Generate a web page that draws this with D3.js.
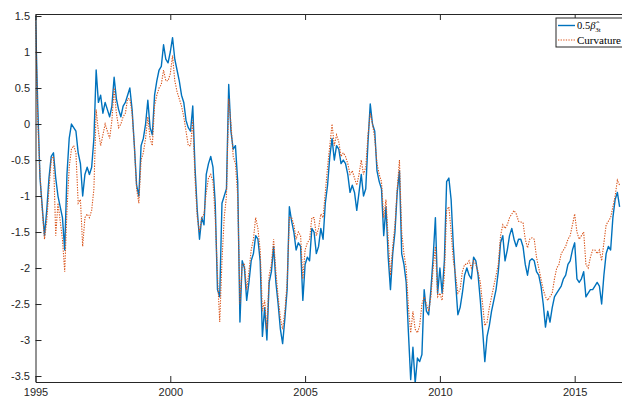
<!DOCTYPE html>
<html>
<head>
<meta charset="utf-8">
<script src="https://cdn.jsdelivr.net/npm/d3@7"></script>
<style>
  body { margin: 0; background: #fff; }
  svg { display: block; }
</style>
</head>
<body>
<svg id="chart" width="622" height="397"></svg>
<script>
// monthly values, Jan 1995 .. Sep 2016
const startYear = 1995;
const beta3Half = [
  1.5, 0.25, -0.75, -1.15, -1.55, -1.2, -0.75, -0.45, -0.4, -0.75, -1.0, -1.15,
  -1.3, -1.75, -0.7, -0.2, 0.0, -0.05, -0.1, -0.4, -0.55, -1.0, -0.7, -0.6,
  -0.7, -0.6, -0.2, 0.75, 0.3, 0.4, 0.15, 0.3, 0.2, 0.1, 0.25, 0.65,
  0.35, 0.2, 0.1, 0.25, 0.3, 0.4, 0.5, 0.2, -0.3, -0.85, -1.0, -0.3,
  -0.2, 0.0, 0.33, -0.05, -0.15, 0.4, 0.6, 0.75, 0.8, 1.1, 0.9, 0.85,
  1.0, 1.2, 0.9, 0.75, 0.6, 0.4, 0.3, 0.05, -0.05, -0.1, 0.25, -0.6,
  -1.2, -1.6, -1.3, -1.4, -0.7, -0.55, -0.45, -0.6, -1.1, -2.3, -2.4, -1.1,
  -1.0, -0.9, 0.55, -0.1, -0.35, -0.3, -0.8, -2.75, -1.9, -2.0, -2.45, -2.2,
  -1.9, -1.8, -1.55, -1.6, -1.9, -2.95, -2.55, -3.0, -2.2, -2.05, -1.7, -2.2,
  -2.5, -2.85, -3.05, -2.7, -2.3, -1.15, -1.35, -1.5, -1.75, -1.65, -1.7, -2.45,
  -1.95, -1.85, -1.9, -1.45, -1.5, -1.8, -1.7, -1.45, -1.6, -1.1, -0.85, -0.45,
  -0.2, -0.5, -0.3, -0.35, -0.55, -0.5, -0.55, -0.7, -0.95, -0.85, -0.95, -1.2,
  -0.95, -0.7, -1.0, -0.9, -0.25, 0.28, 0.0, -0.1, -0.65, -0.8, -0.9, -1.55,
  -1.15, -1.85, -2.3, -1.8, -1.5, -0.95, -0.65, -1.8, -1.95, -2.2, -2.9, -3.55,
  -3.1, -3.6, -3.25, -3.3, -3.2, -2.3, -2.6, -2.65, -2.3, -1.85, -1.3, -2.35,
  -2.0, -2.35, -1.9, -0.8, -0.75, -1.05, -1.7, -2.2, -2.65, -2.55, -2.35, -2.1,
  -2.0, -2.1, -2.15, -1.85, -1.9, -2.1, -2.45, -2.85, -3.3, -2.95, -2.8, -2.6,
  -2.45, -2.3, -2.05, -1.65, -1.55, -1.9, -1.75, -1.55, -1.45, -1.6, -1.7, -1.6,
  -1.6, -1.7, -1.95, -2.1, -1.9, -1.87, -1.9, -2.05, -2.1, -2.25, -2.5, -2.82,
  -2.6, -2.75, -2.55, -2.4, -2.35, -2.3, -2.25, -2.15, -2.1, -1.95, -1.9, -1.75,
  -1.65, -2.15, -2.2, -2.15, -2.05, -2.4, -2.35, -2.3, -2.3, -2.25, -2.2, -2.25,
  -2.5, -2.1, -1.8, -1.7, -1.75, -1.3, -1.05, -0.95, -1.15
];
const curvature = [
  1.45, 0.05, -0.7, -1.2, -1.6, -1.35, -0.9, -0.5, -0.45, -1.55, -1.1, -1.35,
  -1.6, -2.05, -1.2, -0.6, -0.35, -0.3, -0.4, -1.1, -1.05, -1.7, -1.3, -1.25,
  -1.3, -1.2, -0.9, 0.2, -0.1, -0.3, -0.15, 0.0, -0.1, -0.2, 0.05, 0.5,
  0.15, -0.05, 0.0, 0.1, 0.15, 0.35, 0.35, 0.15, -0.3, -0.9, -1.1, -0.5,
  -0.4, -0.2, 0.1, -0.2, -0.3, 0.25, 0.4, 0.5, 0.55, 0.75, 0.6, 0.6,
  0.7, 0.95, 0.6, 0.45, 0.35, 0.25, 0.1, -0.1, -0.3, -0.3, 0.05, -0.75,
  -1.3, -1.5, -1.3, -1.25, -0.95, -0.75, -0.7, -0.8, -1.3, -2.1, -2.75, -1.9,
  -1.3, -1.0, 0.35, 0.0, -0.45, -0.55, -1.0, -2.5, -1.95, -1.95, -2.3, -2.05,
  -1.75, -1.6, -1.3, -1.45, -1.75, -2.6, -2.45, -2.85, -2.1, -1.95, -1.6, -2.05,
  -2.4, -2.7, -2.85, -2.6, -2.2, -1.3, -1.3, -1.4, -1.6, -1.5, -1.55, -2.15,
  -1.75, -1.65, -1.6, -1.3, -1.3, -1.55, -1.45, -1.25, -1.3, -0.95, -0.6, -0.3,
  0.0, -0.3, -0.15, -0.25, -0.45, -0.4, -0.45, -0.55, -0.7, -0.65, -0.75, -0.85,
  -0.7, -0.5, -0.7, -0.6, -0.15, 0.15, 0.0, -0.2, -0.55, -0.7, -0.8, -1.3,
  -1.05, -1.6, -2.1, -1.7, -1.4, -0.9, -0.5, -1.5, -1.8, -2.0, -2.55, -2.9,
  -2.6, -2.85, -2.9, -2.8, -2.5, -2.4, -2.5, -2.6, -2.4, -2.0, -1.7, -2.4,
  -2.35, -2.45, -2.1, -1.2, -1.15, -1.5, -1.9, -2.1, -2.35, -2.3, -2.05, -1.95,
  -1.95, -1.9, -2.0, -1.9, -1.95, -2.05, -2.2, -2.5, -2.8, -2.75, -2.55, -2.4,
  -2.25, -2.1, -1.95, -1.55, -1.4, -1.45, -1.4, -1.3, -1.25, -1.2, -1.25, -1.35,
  -1.36, -1.37, -1.6, -1.72, -1.6, -1.58, -1.6, -1.85, -2.0, -2.15, -2.3, -2.4,
  -2.45, -2.4, -2.35, -2.15, -2.0, -1.95, -1.8, -1.75, -1.7, -1.6, -1.55, -1.4,
  -1.25, -1.5, -1.6, -1.55, -1.5, -1.95, -2.0, -1.85, -1.75, -1.75, -1.8, -1.75,
  -1.9, -1.65, -1.4, -1.35, -1.3, -1.15, -1.0, -0.78, -0.85
];
const xTicks = [1995, 2000, 2005, 2010, 2015];
const yTicks = [-3.5, -3, -2.5, -2, -1.5, -1, -0.5, 0, 0.5, 1, 1.5];
const legendLabels = ['Curvature'];

const axisColor = '#262626';
const blue = '#0072BD';
const orange = '#D95319';

const margin = { left: 35.5, right: 622, top: 14, bottom: 382 };

const svg = d3.select('#chart');

const x = d3.scaleLinear()
  .domain([1995, 2016.755])
  .range([margin.left, margin.right]);
const y = d3.scaleLinear()
  .domain([-3.583, 1.528])
  .range([margin.bottom, margin.top]);

const rows = beta3Half.map(function(v, i) {
  return { t: startYear + i / 12, b: v, c: curvature[i] };
});

svg.append('defs')
  .append('clipPath')
  .attr('id', 'plotclip')
  .append('rect')
  .attr('x', margin.left)
  .attr('y', margin.top)
  .attr('width', margin.right - margin.left)
  .attr('height', margin.bottom - margin.top);

const lineB = d3.line()
  .x(function(d) { return x(d.t); })
  .y(function(d) { return y(d.b); });
const lineC = d3.line()
  .x(function(d) { return x(d.t); })
  .y(function(d) { return y(d.c); });

const plot = svg.append('g').attr('clip-path', 'url(#plotclip)');

plot.append('path')
  .datum(rows)
  .attr('fill', 'none')
  .attr('stroke', blue)
  .attr('stroke-width', 1.4)
  .attr('stroke-linejoin', 'round')
  .attr('d', lineB);

plot.append('path')
  .datum(rows)
  .attr('fill', 'none')
  .attr('stroke', orange)
  .attr('stroke-width', 1.1)
  .attr('stroke-dasharray', '1.3,1.3')
  .attr('d', lineC);

// axes: box with inward ticks, like matlab
const font = '"Liberation Sans", Arial, Helvetica, sans-serif';

const bottomAxis = d3.axisBottom(x)
  .tickValues(xTicks)
  .tickFormat(d3.format('d'))
  .tickSizeInner(-6)
  .tickSizeOuter(0)
  .tickPadding(6.5);
const topAxis = d3.axisTop(x)
  .tickValues(xTicks)
  .tickFormat('')
  .tickSizeInner(-6)
  .tickSizeOuter(0);
const leftAxis = d3.axisLeft(y)
  .tickValues(yTicks)
  .tickFormat(function(d) { return String(d); })
  .tickSizeInner(-6)
  .tickSizeOuter(0)
  .tickPadding(5.5);

function styleAxis(g) {
  g.selectAll('.domain').attr('stroke', axisColor).attr('stroke-width', 1);
  g.selectAll('.tick line').attr('stroke', axisColor).attr('stroke-width', 1);
  g.selectAll('.tick text')
    .attr('fill', axisColor)
    .style('font-family', font)
    .style('font-size', '11px');
}

svg.append('g')
  .attr('transform', 'translate(0,' + margin.bottom + ')')
  .call(bottomAxis)
  .call(styleAxis);
svg.append('g')
  .attr('transform', 'translate(0,' + margin.top + ')')
  .call(topAxis)
  .call(styleAxis);
svg.append('g')
  .attr('transform', 'translate(' + margin.left + ',0)')
  .call(leftAxis)
  .call(styleAxis);

// legend
const legend = svg.append('g').attr('transform', 'translate(556,18)');
legend.append('rect')
  .attr('x', 0)
  .attr('y', 0)
  .attr('width', 70)
  .attr('height', 29)
  .attr('fill', '#fff')
  .attr('stroke', axisColor)
  .attr('stroke-width', 1);

legend.append('line')
  .attr('x1', 2).attr('x2', 19)
  .attr('y1', 7.5).attr('y2', 7.5)
  .attr('stroke', blue)
  .attr('stroke-width', 1.4);
legend.append('line')
  .attr('x1', 2).attr('x2', 19)
  .attr('y1', 22).attr('y2', 22)
  .attr('stroke', orange)
  .attr('stroke-width', 1.1)
  .attr('stroke-dasharray', '1.3,1.3');

const serif = '"Liberation Serif", "DejaVu Serif", serif';
const t1 = legend.append('text')
  .attr('x', 21)
  .attr('y', 11)
  .attr('fill', '#000')
  .style('font-family', serif)
  .style('font-size', '10.5px');
t1.append('tspan').text('0.5');
t1.append('tspan').style('font-style', 'italic').text('\u03B2\u0302');
t1.append('tspan')
  .attr('dy', 2.5)
  .style('font-size', '7px')
  .text('3t');

legend.append('text')
  .attr('x', 21)
  .attr('y', 25.5)
  .attr('fill', '#000')
  .style('font-family', serif)
  .style('font-size', '11px')
  .text(legendLabels[0]);
</script>
</body>
</html>
